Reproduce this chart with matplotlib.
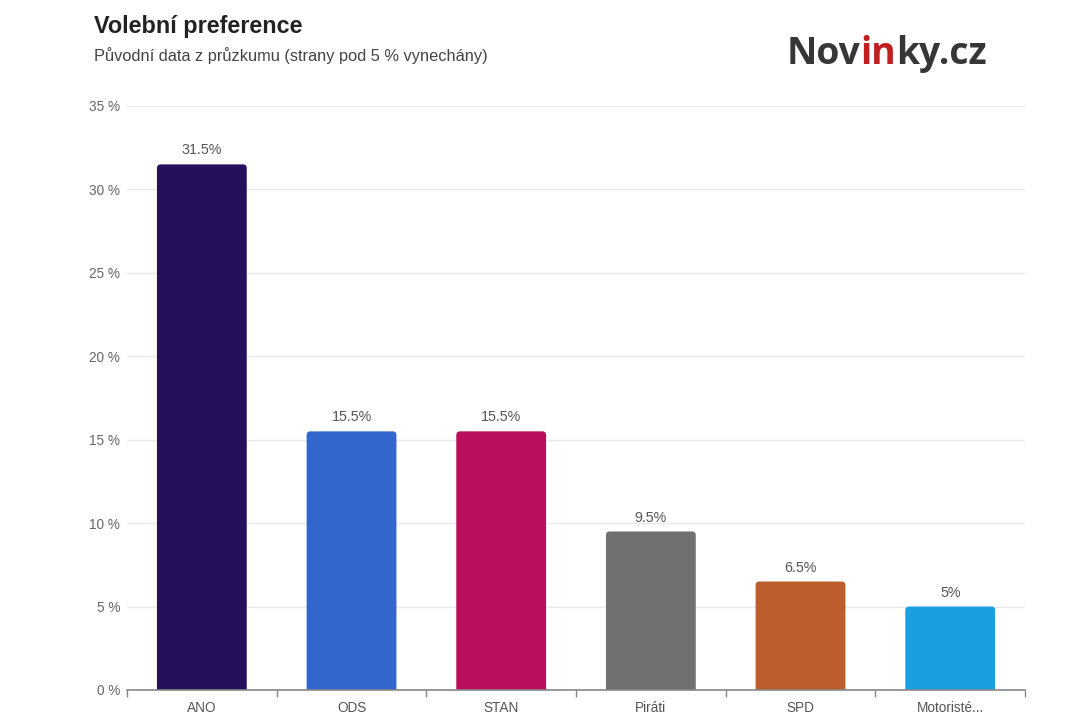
import matplotlib.pyplot as plt
from matplotlib.patches import FancyBboxPatch
from matplotlib.ticker import FixedLocator

strany = ["ANO", "ODS", "STAN", "Piráti", "SPD", "Motoristé..."]
hodnoty = [31.5, 15.5, 15.5, 9.5, 6.5, 5]
popisky = ["31.5%", "15.5%", "15.5%", "9.5%", "6.5%", "5%"]
barvy = ["#26105e", "#3366cc", "#b90e5c", "#707070", "#bd5c2c", "#18a0e0"]
y_ticks = [0, 5, 10, 15, 20, 25, 30, 35]

plt.rcParams['font.family'] = ['Liberation Sans', 'DejaVu Sans']

fig = plt.figure(figsize=(10.8, 7.2), dpi=100)
ax = fig.add_axes([0.1176, 0.0417, 0.8315, 0.8111])

sirka = 0.6
for i, (h, c) in enumerate(zip(hodnoty, barvy)):
    # zaoblene horni rohy, spodek schovany pod osou
    p = FancyBboxPatch((i - sirka / 2, -0.5), sirka, h + 0.5,
                       boxstyle="round,pad=0,rounding_size=0.025",
                       mutation_aspect=9, facecolor=c, edgecolor="none", zorder=3)
    ax.add_patch(p)
    ax.annotate(popisky[i], (i, h), xytext=(0, 5), textcoords="offset points",
                ha="center", va="bottom", fontsize=10.3, color="#555555")

ax.set_xlim(-0.5, len(strany) - 0.5)
ax.set_ylim(0, 35)
ax.set_yticks(y_ticks)
ax.set_yticklabels([f"{t} %" for t in y_ticks])
ax.set_xticks(range(len(strany)))
ax.set_xticklabels(strany)
ax.xaxis.set_minor_locator(FixedLocator([i - 0.5 for i in range(len(strany) + 1)]))

ax.tick_params(axis="x", which="major", length=0, pad=8, labelsize=9.8, labelcolor="#555555")
ax.tick_params(axis="x", which="minor", length=5, width=1, color="#888888")
ax.tick_params(axis="y", length=0, pad=5, labelsize=9.8, labelcolor="#666666")

ax.grid(axis="y", color="#e8e8e8", linewidth=1, zorder=0)
ax.set_axisbelow(True)
for s in ["top", "right", "left"]:
    ax.spines[s].set_visible(False)
ax.spines["bottom"].set_color("#888888")
ax.spines["bottom"].set_linewidth(1.2)
ax.spines["bottom"].set_zorder(5)

fig.text(0.087, 0.963, "Volební preference", fontsize=16.8, fontweight="bold",
         color="#222222", va="center")
fig.text(0.087, 0.923, "Původní data z průzkumu (strany pod 5 % vynechány)",
         fontsize=11.8, color="#444444", va="center")

# logo Novinky.cz
fig.canvas.draw()
r = fig.canvas.get_renderer()
x0 = 0.728
casti = [("Nov", "#363636"), ("in", "#c01f1f"), ("ky.cz", "#363636")]
for txt, col in casti:
    t = fig.text(x0, 0.925, txt, fontsize=26.8, fontweight="bold",
                 family=["Open Sans", "DejaVu Sans"], color=col, va="center")
    bb = t.get_window_extent(renderer=r)
    x0 = x0 + bb.width / fig.bbox.width

fig.savefig("out.png", dpi=100)
